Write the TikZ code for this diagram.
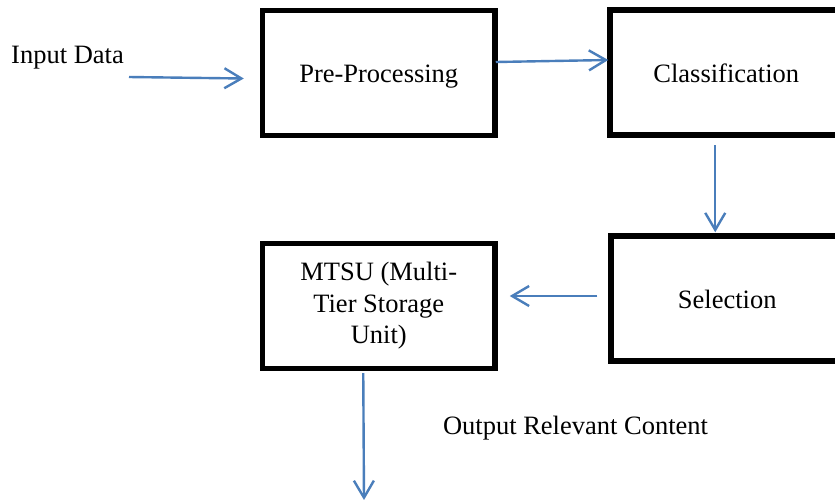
\documentclass[tikz,border=0pt]{standalone}
\usepackage{fontspec}
\setmainfont{Liberation Serif}
\usetikzlibrary{arrows.meta,calc}
\definecolor{arrowblue}{RGB}{74,126,187}
\newcommand\diagfont{\fontsize{26.5}{31.8}\selectfont}
\begin{document}
\begin{tikzpicture}[x=1pt,y=-1pt,
  box/.style={draw=black, line width=5.5pt, minimum width=232.5pt, minimum height=125pt,
    inner sep=0pt, font=\diagfont, text height=19pt, text depth=0pt},
  flow/.style={draw=arrowblue, line width=2.4pt,
    -{Straight Barb[length=17pt,width=20pt,line width=2.4pt]}},
  lbl/.style={font=\diagfont, inner sep=0pt, anchor=base}]
\useasboundingbox (0,0) rectangle (835,499);
\fill[white] (0,0) rectangle (835,499);
\clip (0,0) rectangle (835,499);

\node[box] (pre) at (378.75,72.75) {Pre-Processing};
\node[box] (cls) at (726.25,72.5) {Classification};
\node[box] (sel) at (727.25,298.5) {Selection};
\node[box, align=center, text height=, text depth=] (mtsu) at (378.75,305.75)
  {MTSU (Multi-\\Tier Storage\\Unit)};

\node[lbl] (inlbl) at (67.5,63) {Input Data};
\node[lbl] (outlbl) at (575.5,434) {Output Relevant Content};

\coordinate (inA) at (129,77);
\coordinate (outB) at (364,500);

\draw[flow] (inA) -- ($(pre.west)+(-16,5.75)$);
\draw[flow] ($(pre.east)+(-2,-10.75)$) -- ($(cls.west)+(1,-12.5)$);
\draw[flow] ($(cls.south)+(-11,7.5)$) -- ($(sel.north)+(-12,-1)$);
\draw[flow] ($(sel.west)+(-11,-2.5)$) -- ($(mtsu.east)+(12,-9.75)$);
\draw[flow] ($(mtsu.south)+(-15.5,2)$) -- (outB);
\end{tikzpicture}
\end{document}
